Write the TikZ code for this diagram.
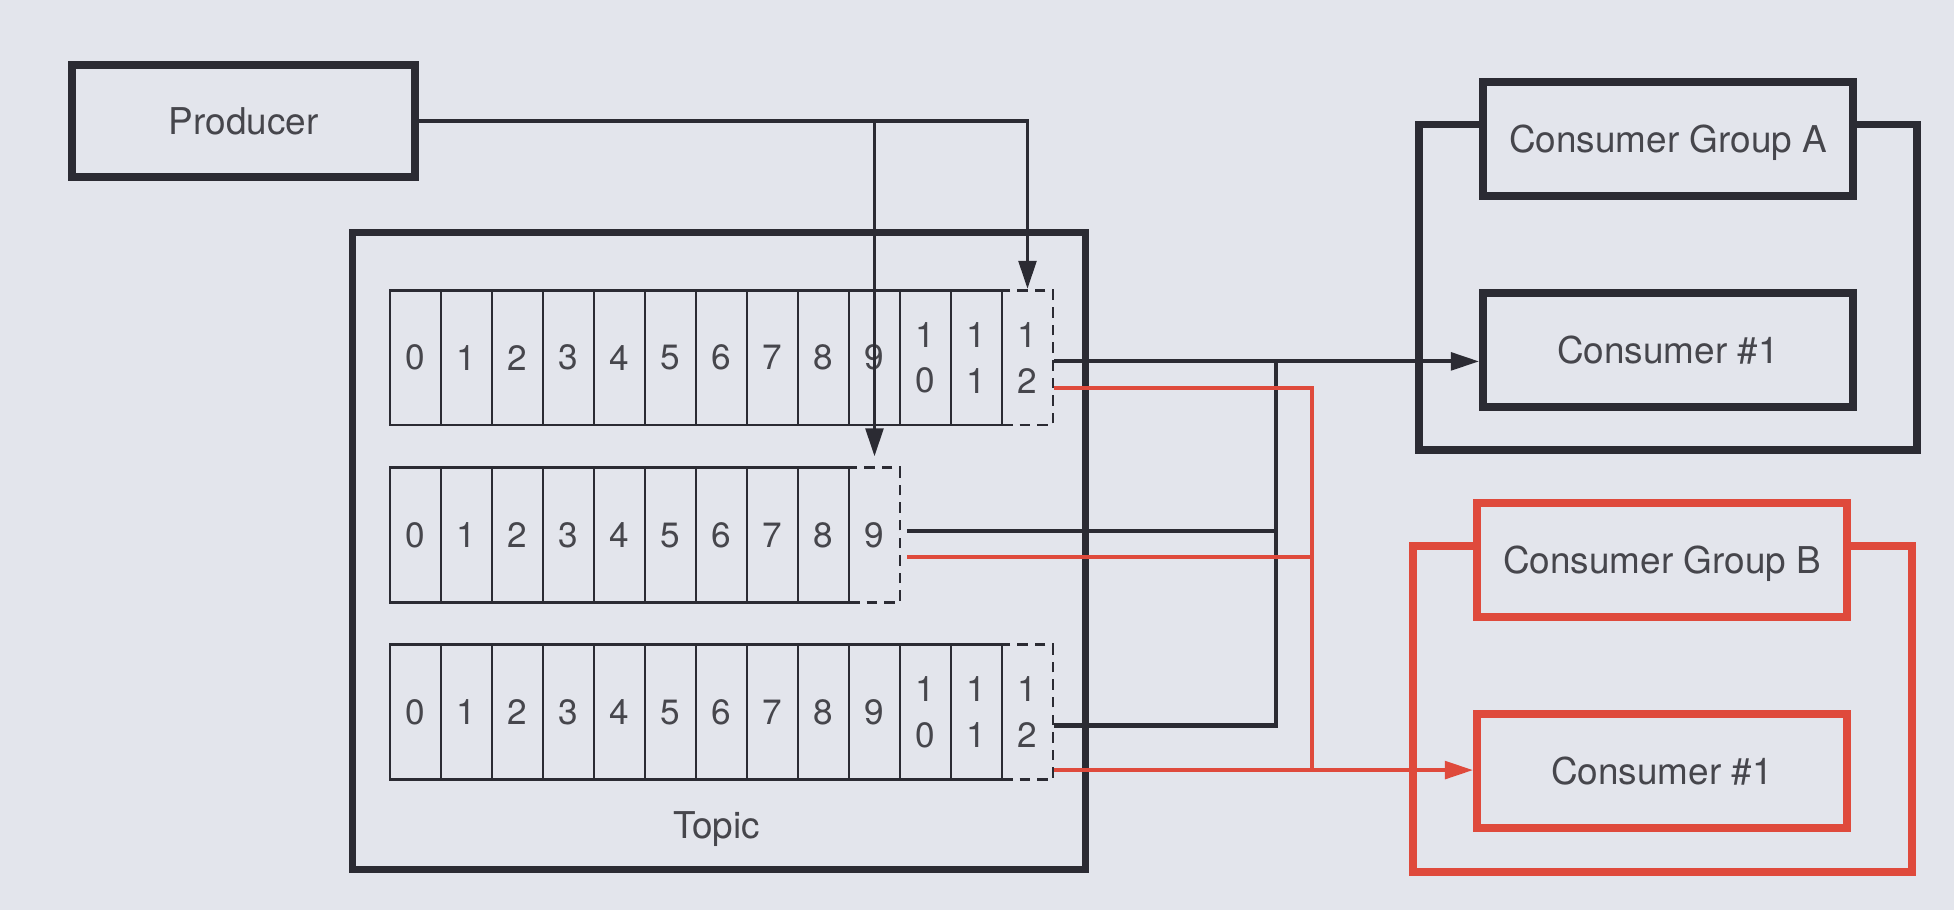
\documentclass[tikz,border=0pt]{standalone}
\usepackage{fontspec}
\setmainfont{TeX Gyre Heros}
\usetikzlibrary{calc,arrows.meta}
\pgfdeclarelayer{background}
\pgfsetlayers{background,main}

\definecolor{bgcol}{HTML}{E3E5EC}
\definecolor{ink}{HTML}{2B2B33}
\definecolor{kred}{HTML}{DF4A3C}
\definecolor{txt}{HTML}{46464C}

\newcommand{\onedig}[1]{#1}
\newcommand{\twodig}[1]{1\\[1pt]\the\numexpr#1-10\relax}
\newcommand{\cellno}[1]{\ifnum#1>9 \expandafter\twodig\else\expandafter\onedig\fi{#1}}

\tikzset{
  box/.style={draw=ink, line width=2.2pt, minimum width=3.7cm, minimum height=1.14cm,
    text height=7.6pt, text depth=0pt, text=txt, font=\fontsize{10.5}{12.6}\selectfont},
  rbox/.style={box, draw=kred},
  cell/.style={draw=ink, line width=0.8pt, minimum width=0.51cm, minimum height=1.346cm,
    inner sep=0pt, align=center, text=txt, font=\fontsize{10}{12}\selectfont},
  tailcell/.style={cell, dash pattern=on 3pt off 2pt},
  conn/.style={draw=ink, line width=1.1pt},
  rconn/.style={draw=kred, line width=1.1pt},
  tip/.style={-{Triangle[length=8pt,width=5pt]}},
  frame/.style={draw=ink, line width=2.2pt},
  rframe/.style={frame, draw=kred}
}

\begin{document}
\begin{tikzpicture}[x=0.01cm, y=-0.01cm]

\begin{pgfonlayer}{background}
\fill[bgcol] (0,0) rectangle (1954,910);
\end{pgfonlayer}
\useasboundingbox (0,0) rectangle (1954,910);

% producer and topic
\node[box, minimum width=3.43cm, minimum height=1.12cm] (producer) at (243.5,121) {Producer};
\node[draw=ink, line width=2pt, minimum width=7.33cm, minimum height=6.36cm] (topic) at (719,551) {};
\node[text=txt, font=\fontsize{10.5}{12.6}\selectfont] (topiclbl) at (716.6,828.7) {Topic};

% partitions
\foreach \i in {0,...,11}{
  \node[cell] (a\i) at (415.5+51*\i,357.7) {\cellno{\i}};
  \node[cell] (c\i) at (415.5+51*\i,712.2) {\cellno{\i}};
}
\foreach \i in {0,...,8}
  \node[cell] (b\i) at (415.5+51*\i,535.2) {\i};
\node[tailcell] (a12) at (1027.5,357.7) {1\\[1pt]2};
\node[tailcell] (b9) at (874.5,535.2) {9};
\node[tailcell] (c12) at (1027.5,712.2) {1\\[1pt]2};

% consumers
\node[box] (gA) at (1668,139) {Consumer Group A};
\node[box] (cA) at (1668,350) {Consumer \#1};
\node[rbox] (gB) at (1662,560) {Consumer Group B};
\node[rbox] (cB) at (1662,771) {Consumer \#1};

\draw[frame] (gA.west |- 0,124.6) -- (1419,124.6) -- (1419,450) -- (1917,450) -- (1917,124.6) -- (gA.east |- 0,124.6);
\draw[rframe] (gB.west |- 0,546) -- (1413,546) -- (1413,872) -- (1912,872) -- (1912,546) -- (gB.east |- 0,546);

% producer writes
\draw[conn, tip] (producer.east) -| (a12.north);
\draw[conn, tip] (producer.east -| b9.north) -- ($(b9.north)+(0,-10)$);

% consumer reads
\coordinate (ka) at ($(a12.east)+(0,3.7)$);
\coordinate (ra) at ($(a12.east)+(0,30)$);
\coordinate (kb) at ($(b9.east)+(6,-4.3)$);
\coordinate (rb) at ($(b9.east)+(6,21.8)$);
\coordinate (kc) at ($(c12.east)+(0,13.1)$);
\coordinate (rc) at ($(c12.east)+(0,57.9)$);
\coordinate (kx) at (1276,0);
\coordinate (rx) at (1312,0);

\draw[conn, tip] (ka) -- (ka -| cA.west);
\draw[conn] (kb) -- (kb -| kx);
\draw[conn, line width=1.3pt] (kc) -| (ka -| kx);
\draw[rconn] (ra) -| (rc -| rx);
\draw[rconn] (rb) -- (rb -| rx);
\draw[rconn, tip] (rc) -- (rc -| cB.west);

\end{tikzpicture}
\end{document}
